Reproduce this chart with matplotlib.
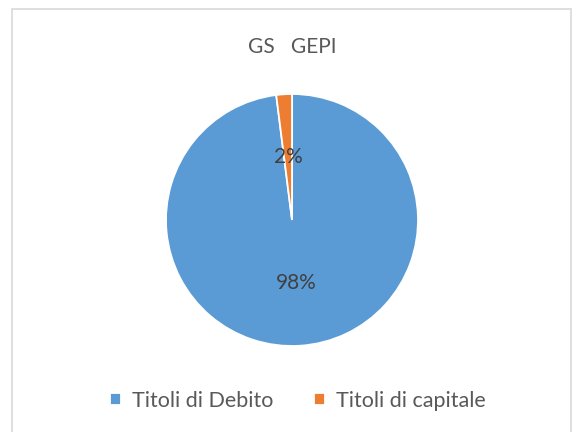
import matplotlib
matplotlib.use("Agg")
import matplotlib.pyplot as plt
from matplotlib.patches import Rectangle

plt.rcParams["font.family"] = ["Lato", "DejaVu Sans"]

labels = ["Titoli di Debito", "Titoli di capitale"]
shares = [98, 2]
colors = ["#5B9BD5", "#ED7D31"]
title = "GS   GEPI"

W, H = 573, 432
fig = plt.figure(figsize=(W / 100, H / 100), dpi=100)

# light grey chart-area border (bottom edge falls outside the image)
fig.patches.append(Rectangle((11.5 / W, -0.01), (571 - 11.5) / W, 1.01 - 9.5 / H,
                             transform=fig.transFigure, fill=False,
                             edgecolor="#D9D9D9", lw=1.2))

ax = fig.add_axes([166 / W, 86 / H, 252 / W, 252 / H])
wedges, _, autotexts = ax.pie(
    shares,
    colors=colors,
    startangle=90,
    counterclock=False,
    autopct="%.0f%%",
    pctdistance=0.5,
    wedgeprops=dict(edgecolor="white", linewidth=1.3),
    textprops=dict(color="#404040", fontsize=15),
)
ax.set_xlim(-1, 1)
ax.set_ylim(-1, 1)
ax.set_aspect("equal")

fig.text(292 / W, 1 - 47 / H, title, ha="center", va="center",
         fontsize=15, color="#595959")

fig.legend(wedges, labels, loc="center", bbox_to_anchor=(298 / W, 1 - 401 / H),
           ncol=2, frameon=False, fontsize=15.5, labelcolor="#595959",
           handlelength=0.5, handleheight=0.5, handletextpad=0.5,
           columnspacing=1.9)

fig.savefig("out.png", dpi=100)
